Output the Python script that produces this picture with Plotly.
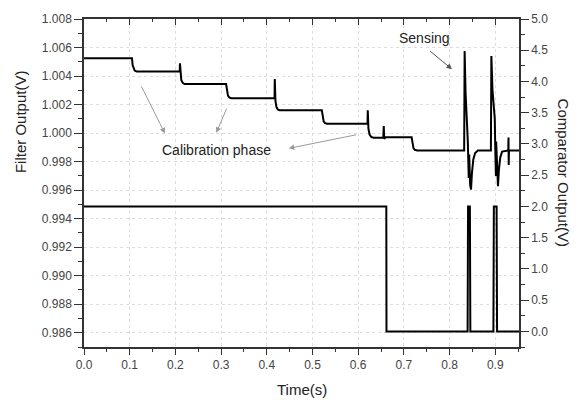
import plotly.graph_objects as go

# Filter output (V) versus time (s)
filter_t = [0.0000, 0.1050, 0.1065, 0.1085, 0.1110, 0.1150,
            0.2095, 0.2100, 0.2110, 0.2130, 0.2160, 0.2200,
            0.3110, 0.3125, 0.3150, 0.3180, 0.3220,
            0.4170, 0.4175, 0.4190, 0.4210, 0.4240, 0.4280,
            0.5205, 0.5220, 0.5245, 0.5275, 0.5320,
            0.6205, 0.6210, 0.6225, 0.6250, 0.6290, 0.6340,
            0.6550, 0.6560, 0.6570, 0.6600,
            0.7170, 0.7185, 0.7210, 0.7240, 0.7290,
            0.8320, 0.8330, 0.8350, 0.8370, 0.8390, 0.8400, 0.8420, 0.8430,
            0.8450, 0.8470, 0.8490, 0.8520, 0.8560, 0.8620,
            0.8905, 0.8915, 0.8940, 0.8975, 0.8990, 0.9000, 0.9015, 0.9020,
            0.9040, 0.9060, 0.9080, 0.9110, 0.9150,
            0.9285, 0.9290, 0.9295, 0.9300, 0.9520]
filter_v = [1.00524, 1.00524, 1.00475, 1.00450, 1.00438, 1.00432,
            1.00432, 1.00490, 1.00405, 1.00370, 1.00352, 1.00344,
            1.00344, 1.00300, 1.00265, 1.00250, 1.00244,
            1.00244, 1.00379, 1.00225, 1.00185, 1.00166, 1.00160,
            1.00160, 1.00115, 1.00082, 1.00070, 1.00066,
            1.00066, 1.00160, 1.00030, 0.99990, 0.99972, 0.99968,
            0.99968, 1.00050, 0.99960, 0.99970,
            0.99970, 0.99925, 0.99895, 0.99883, 0.99878,
            0.99878, 1.00576, 1.00290, 1.00160, 1.00100, 0.99940, 0.99685, 0.99850,
            0.99640, 0.99604, 0.99720, 0.99815, 0.99860, 0.99878,
            0.99878, 1.00541, 1.00300, 1.00160, 1.00100, 0.99900, 0.99700, 0.99940,
            0.99680, 0.99627, 0.99740, 0.99830, 0.99870,
            0.99878, 0.99969, 0.99777, 0.99878, 0.99878]

# Comparator output (V) versus time (s)
comp_t = [0.0, 0.6616, 0.6620, 0.8395, 0.8405, 0.8445, 0.8455,
          0.8960, 0.8970, 0.9030, 0.9040, 0.9520]
comp_v = [2.0, 2.0, 0.0, 0.0, 2.0, 2.0, 0.0, 0.0, 2.0, 2.0, 0.0, 0.0]

x_range = [0.0, 0.952]
left_range = [0.985, 1.008]
right_range = [-0.25, 5.0]

FONT = "Liberation Sans, Arial, sans-serif"
AXIS_COLOR = "#333333"
TICK_FONT = dict(family=FONT, size=12, color="#444444")
GRID = dict(showgrid=True, gridcolor="#dedede", griddash="dot", gridwidth=1)

fig = go.Figure()
fig.add_trace(go.Scatter(x=filter_t, y=filter_v, mode="lines",
                         line=dict(color="black", width=2), yaxis="y",
                         showlegend=False, hoverinfo="skip"))
fig.add_trace(go.Scatter(x=comp_t, y=comp_v, mode="lines",
                         line=dict(color="black", width=2), yaxis="y2",
                         showlegend=False, hoverinfo="skip"))
# invisible trace so the top tick axis is drawn
fig.add_trace(go.Scatter(x=[None], y=[None], xaxis="x2", yaxis="y",
                         showlegend=False, hoverinfo="skip"))

fig.update_layout(
    width=584, height=400,
    margin=dict(l=84, r=65, t=16, b=53),
    paper_bgcolor="white", plot_bgcolor="white",
    font=dict(family=FONT, color="#222222"),
    xaxis=dict(range=x_range, dtick=0.1, tick0=0, tickformat=".1f",
               ticks="outside", ticklen=6, tickwidth=1.2, tickcolor=AXIS_COLOR,
               minor=dict(dtick=0.05, ticks="outside", ticklen=3,
                          tickcolor=AXIS_COLOR, showgrid=False),
               showline=True, linecolor=AXIS_COLOR, linewidth=1.5,
               tickfont=TICK_FONT, zeroline=False, **GRID),
    xaxis2=dict(range=x_range, overlaying="x", side="top", dtick=0.1, tick0=0,
                ticks="inside", ticklen=6, tickwidth=1.2, tickcolor=AXIS_COLOR,
                minor=dict(dtick=0.05, ticks="inside", ticklen=3,
                           tickcolor=AXIS_COLOR),
                showline=True, linecolor=AXIS_COLOR, linewidth=1.5,
                showticklabels=False, showgrid=False, zeroline=False),
    yaxis=dict(range=left_range, dtick=0.002, tick0=0.986, tickformat=".3f",
               ticks="outside", ticklen=8, tickwidth=1.2, tickcolor=AXIS_COLOR,
               minor=dict(dtick=0.001, ticks="outside", ticklen=4,
                          tickcolor=AXIS_COLOR, showgrid=False),
               showline=True, linecolor=AXIS_COLOR, linewidth=1.5,
               tickfont=TICK_FONT, zeroline=False, **GRID),
    yaxis2=dict(range=right_range, overlaying="y", side="right",
                dtick=0.5, tick0=0, tickformat=".1f",
                ticks="outside", ticklen=8, tickwidth=1.2, tickcolor=AXIS_COLOR,
                minor=dict(dtick=0.25, ticks="outside", ticklen=4,
                           tickcolor=AXIS_COLOR),
                showline=True, linecolor=AXIS_COLOR, linewidth=1.5,
                tickfont=TICK_FONT, showgrid=False, zeroline=False),
)

# axis titles
title_font = dict(family=FONT, size=15, color="#222222")
common = dict(xref="paper", yref="paper", showarrow=False, font=title_font,
              xanchor="center", yanchor="middle")
fig.add_annotation(text="Filter Output(V)", x=(20 - 84) / 435,
                   y=(347 - 120) / 331, textangle=-90, **common)
fig.add_annotation(text="Comparator Output(V)", x=(563 - 84) / 435,
                   y=(347 - 171) / 331, textangle=90, **common)
fig.add_annotation(text="Time(s)", x=(302 - 84) / 435,
                   y=(347 - 390) / 331, **common)

# phase labels with pointer arrows
label_font = dict(family=FONT, size=14, color="#222222")
fig.add_annotation(text="Calibration phase", x=0.2901, y=0.99884,
                   showarrow=False, font=label_font)
fig.add_annotation(text="Sensing", x=0.7448, y=1.00668,
                   showarrow=False, font=label_font)

arrows = [
    # (tail_t, tail_v, head_t, head_v, color)
    (0.1240, 1.003371, 0.1771, 0.999970, "#9a9a9a"),
    (0.3135, 1.001823, 0.2895, 1.000019, "#9a9a9a"),
    (0.5990, 0.999901, 0.4482, 0.998929, "#9a9a9a"),
    (0.7543, 1.005828, 0.8054, 1.004481, "#555555"),
]
for tt, tv, ht, hv, col in arrows:
    fig.add_annotation(x=ht, y=hv, ax=tt, ay=tv, xref="x", yref="y",
                       axref="x", ayref="y", text="", showarrow=True,
                       arrowhead=2, arrowsize=1.1, arrowwidth=1,
                       arrowcolor=col)

fig.write_html("out.html")
